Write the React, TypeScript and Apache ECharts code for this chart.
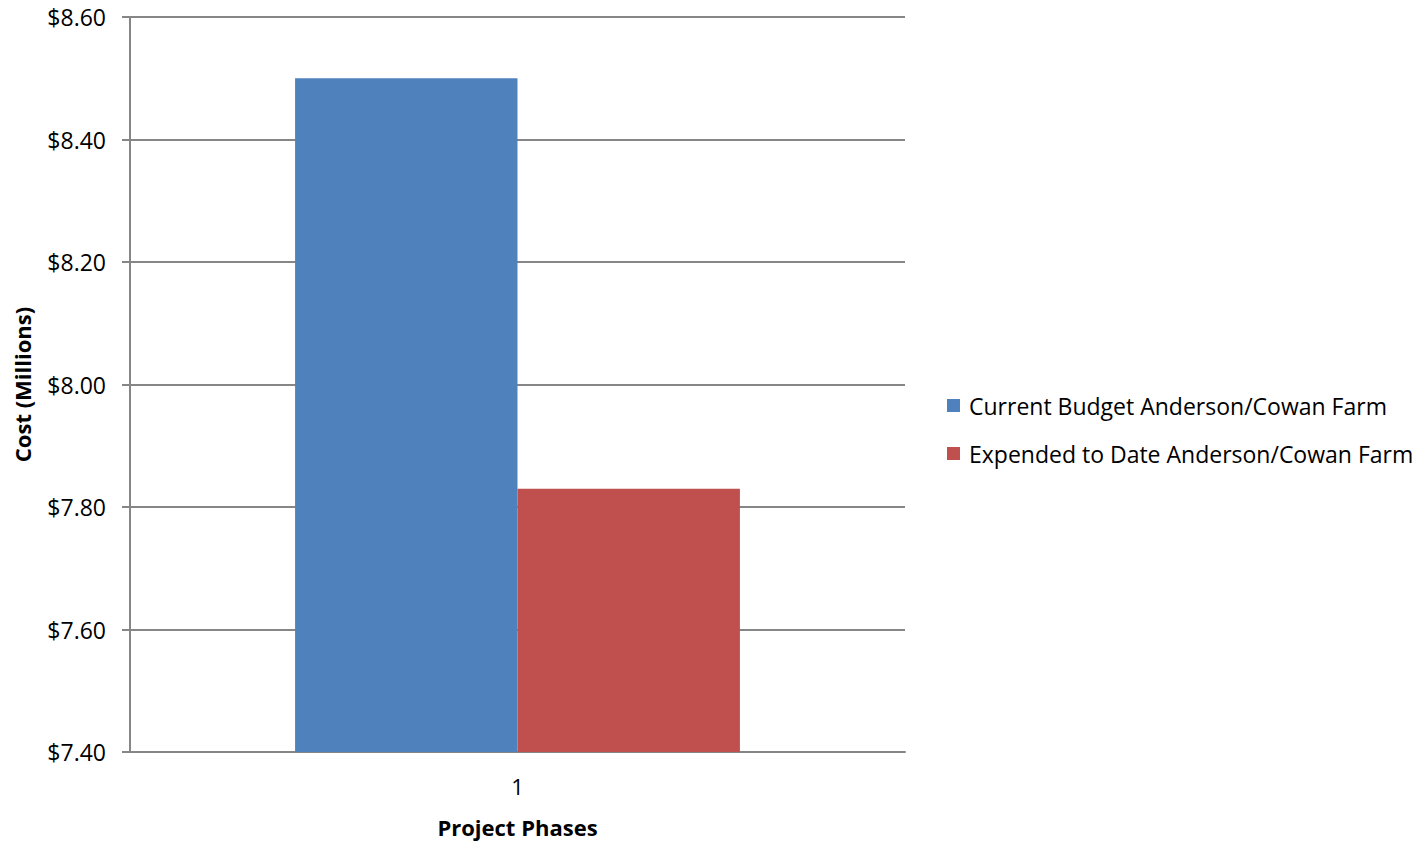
import React, { useEffect, useRef } from "react";
import * as echarts from "echarts";

const categories = ["1"];
const seriesNames = ["Current Budget Anderson/Cowan Farm", "Expended to Date Anderson/Cowan Farm"];
const budgetValues = [8.5];
const expendedValues = [7.83];
const colors = ["#4F81BD", "#C0504D"];

export default function App() {
  const ref = useRef<HTMLDivElement>(null);
  useEffect(() => {
    const chart = echarts.init(ref.current!, null, { renderer: "svg" });
    const font = "'Open Sans', sans-serif";
    chart.setOption({
      animation: false,
      textStyle: { fontFamily: font },
      grid: { left: 130, right: 522, top: 17, bottom: 90, containLabel: false },
      legend: {
        orient: "vertical",
        left: 942,
        top: 389,
        itemWidth: 13,
        itemHeight: 13,
        itemGap: 25,
        icon: "rect",
        textStyle: { fontSize: 23, color: "#000", fontFamily: font, padding: [0, 0, 0, 4] },
        data: seriesNames,
      },
      xAxis: {
        type: "category",
        data: categories,
        name: "Project Phases",
        nameLocation: "middle",
        nameGap: 64,
        nameTextStyle: { fontSize: 22, fontWeight: "bold", color: "#000", fontFamily: font },
        axisLine: { lineStyle: { color: "#868686", width: 2 } },
        axisTick: { show: false },
        axisLabel: { fontSize: 22, color: "#000", margin: 23 },
      },
      yAxis: {
        type: "value",
        min: 7.4,
        max: 8.6,
        interval: 0.2,
        name: "Cost (Millions)",
        nameLocation: "middle",
        nameGap: 97,
        nameTextStyle: { fontSize: 22, fontWeight: "bold", color: "#000", fontFamily: font },
        axisLine: { show: true, lineStyle: { color: "#868686", width: 2 } },
        axisTick: { show: true, length: 8, lineStyle: { color: "#868686", width: 2 } },
        axisLabel: {
          fontSize: 23,
          color: "#000",
          margin: 24,
          formatter: (v: number) => "$" + v.toFixed(2),
        },
        splitLine: { lineStyle: { color: "#868686", width: 2 } },
      },
      series: [
        {
          name: seriesNames[0],
          type: "bar",
          data: budgetValues,
          itemStyle: { color: colors[0] },
          barGap: "0%",
          barCategoryGap: "42.6%",
        },
        {
          name: seriesNames[1],
          type: "bar",
          data: expendedValues,
          itemStyle: { color: colors[1] },
          barGap: "0%",
          barCategoryGap: "42.6%",
        },
      ],
    });
    return () => chart.dispose();
  }, []);
  return <div ref={ref} style={{ width: 1427, height: 843, position: "absolute", left: 0, top: 0 }} />;
}
